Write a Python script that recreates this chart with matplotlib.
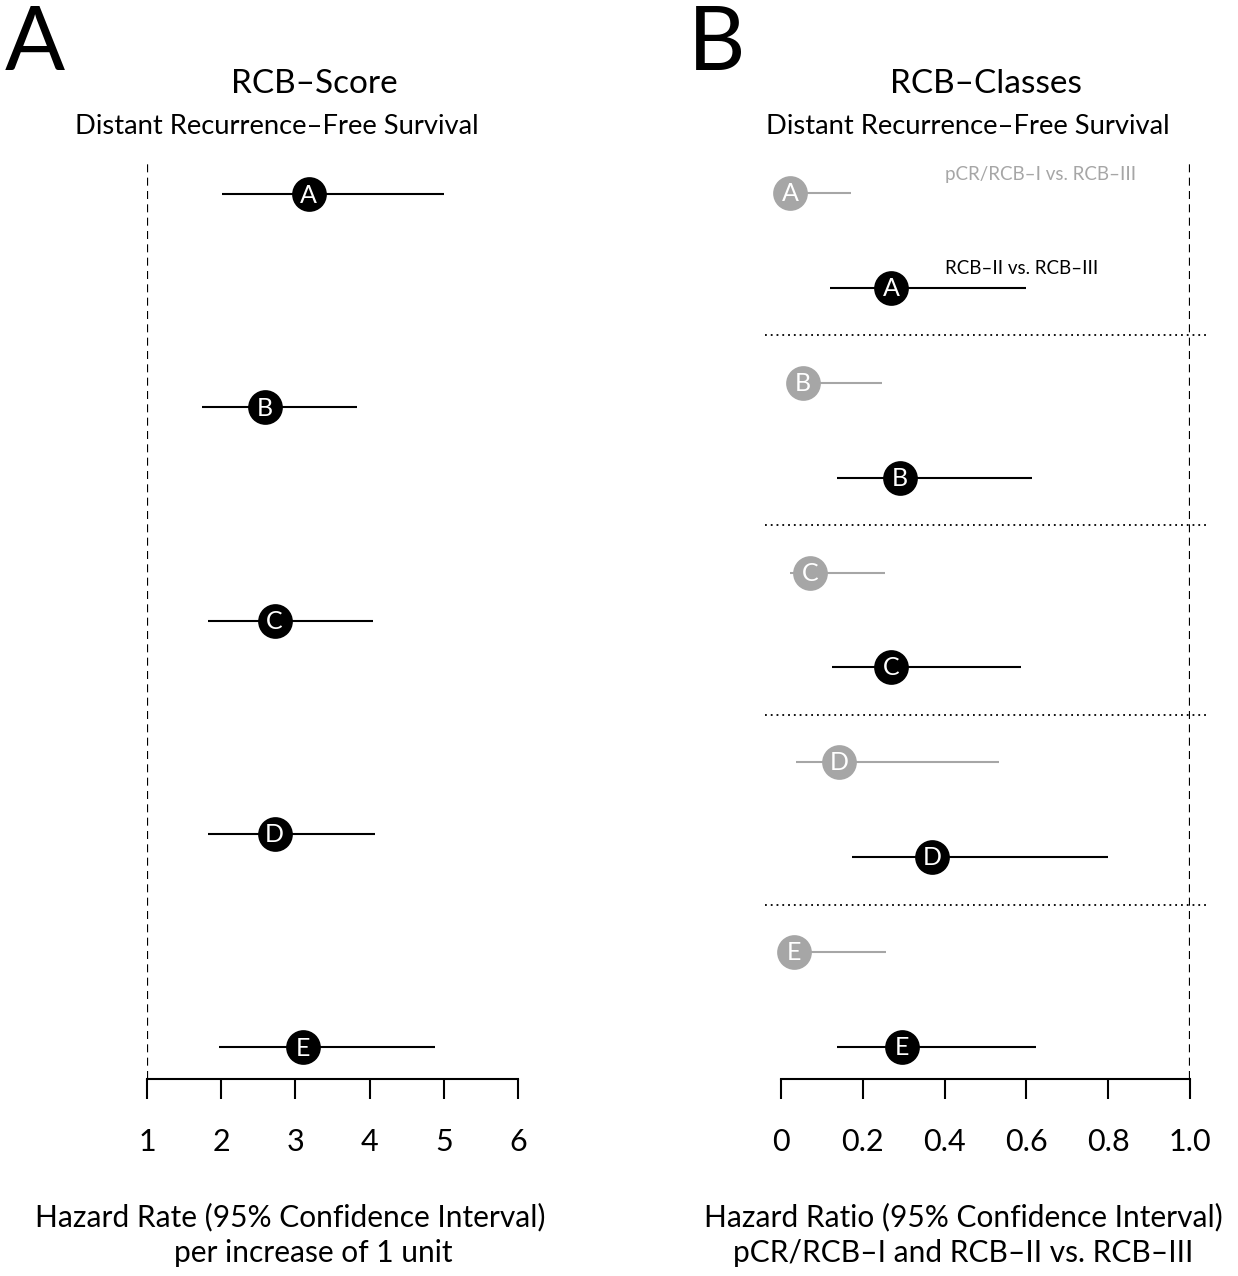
import matplotlib.pyplot as plt

plt.rcParams['font.family'] = ['Lato', 'DejaVu Sans']

# Panel A: RCB-Score, hazard rate per unit increase
score_labels = ['A', 'B', 'C', 'D', 'E']
score_hr = [3.18, 2.59, 2.72, 2.72, 3.10]
score_lo = [2.01, 1.74, 1.82, 1.82, 1.97]
score_hi = [5.00, 3.83, 4.05, 4.07, 4.88]

# Panel B: RCB-Classes, hazard ratio vs RCB-III
class_labels = ['A', 'B', 'C', 'D', 'E']
pcr_hr = [0.022, 0.054, 0.071, 0.142, 0.032]
pcr_lo = [0.005, 0.020, 0.022, 0.037, 0.005]
pcr_hi = [0.170, 0.247, 0.254, 0.533, 0.257]
rcb2_hr = [0.270, 0.290, 0.270, 0.369, 0.296]
rcb2_lo = [0.120, 0.137, 0.125, 0.174, 0.137]
rcb2_hi = [0.600, 0.614, 0.587, 0.800, 0.623]

score_ticks = [1, 2, 3, 4, 5, 6]
class_ticks = [0, 0.2, 0.4, 0.6, 0.8, 1.0]
class_ticklabels = ['0', '0.2', '0.4', '0.6', '0.8', '1.0']

W, H = 1238, 1276
GRAY = '#a6a6a6'
fig = plt.figure(figsize=(W / 100, H / 100), dpi=100)


def px_axes(x0, x1, y0, y1):
    return fig.add_axes([x0 / W, 1 - y1 / H, (x1 - x0) / W, (y1 - y0) / H])


def style_axis(ax, ticks, labels):
    for s in ['left', 'top', 'right']:
        ax.spines[s].set_visible(False)
    ax.spines['bottom'].set_linewidth(1.5)
    ax.set_yticks([])
    ax.set_xticks(ticks)
    ax.set_xticklabels(labels)
    ax.tick_params(axis='x', direction='out', length=14.4, width=1.5,
                   pad=21, labelsize=22)


def point(ax, x, y, lo, hi, label, color):
    ax.plot([lo, hi], [y, y], color=color, lw=1.5, solid_capstyle='butt',
            clip_on=False, zorder=2)
    ax.plot(x, y, 'o', ms=25, color=color, mec='none', clip_on=False, zorder=3)
    ax.text(x, y + 0.005, label, color='white', fontsize=18, ha='center',
            va='center', zorder=4)


# ---- panel A ----
axA = px_axes(147, 518, 150, 1079)
axA.set_xlim(1, 6)
axA.set_ylim(4 + 32 / 213.25, -44 / 213.25)
style_axis(axA, score_ticks, [str(t) for t in score_ticks])
axA.axvline(1, ymin=0, ymax=(1079 - 160) / 929, color='black', lw=1.6,
            ls=(0, (3.6, 2.4)))
for i, lab in enumerate(score_labels):
    point(axA, score_hr[i], i, score_lo[i], score_hi[i], lab, 'black')

# ---- panel B ----
axB = px_axes(781, 1190, 150, 1079)
axB.set_xlim(0, 1)
sp = 94.89
axB.set_ylim(9 + 32 / sp, -43 / sp)
style_axis(axB, class_ticks, class_ticklabels)
axB.axvline(1, ymin=0, ymax=(1079 - 160) / 929, color='black', lw=1.6,
            ls=(0, (3.6, 2.4)))
for i, lab in enumerate(class_labels):
    point(axB, pcr_hr[i], 2 * i, pcr_lo[i], pcr_hi[i], lab, GRAY)
    point(axB, rcb2_hr[i], 2 * i + 1, rcb2_lo[i], rcb2_hi[i], lab, 'black')
    if i < len(class_labels) - 1:
        axB.plot([-16 / 409, 1 + 18 / 409], [2 * i + 1.5] * 2, color='black',
                 lw=1.3, ls=(0, (1, 2.2)), clip_on=False)
axB.text(0.40, -0.2, 'pCR/RCB\u2013I vs. RCB\u2013III', color=GRAY,
         fontsize=13.5, ha='left', va='center')
axB.text(0.40, 0.8, 'RCB\u2013II vs. RCB\u2013III', color='black',
         fontsize=13.5, ha='left', va='center')


def ftext(x, y, s, **kw):
    fig.text(x / W, 1 - y / H, s, ha='center', va='center', **kw)


ftext(35, 45, 'A', fontsize=64)
ftext(717, 45, 'B', fontsize=64)
ftext(314, 84, 'RCB\u2013Score', fontsize=24)
ftext(277, 127, 'Distant Recurrence\u2013Free Survival', fontsize=19.7)
ftext(986, 84, 'RCB\u2013Classes', fontsize=24)
ftext(968, 127, 'Distant Recurrence\u2013Free Survival', fontsize=19.7)
ftext(290, 1217, 'Hazard Rate (95% Confidence Interval)', fontsize=21.5)
ftext(313, 1253, 'per increase of 1 unit', fontsize=21.5)
ftext(963, 1217, 'Hazard Ratio (95% Confidence Interval)', fontsize=21.5)
ftext(963, 1253, 'pCR/RCB\u2013I and RCB\u2013II vs. RCB\u2013III', fontsize=21.5)

fig.savefig('out.png', dpi=100)
